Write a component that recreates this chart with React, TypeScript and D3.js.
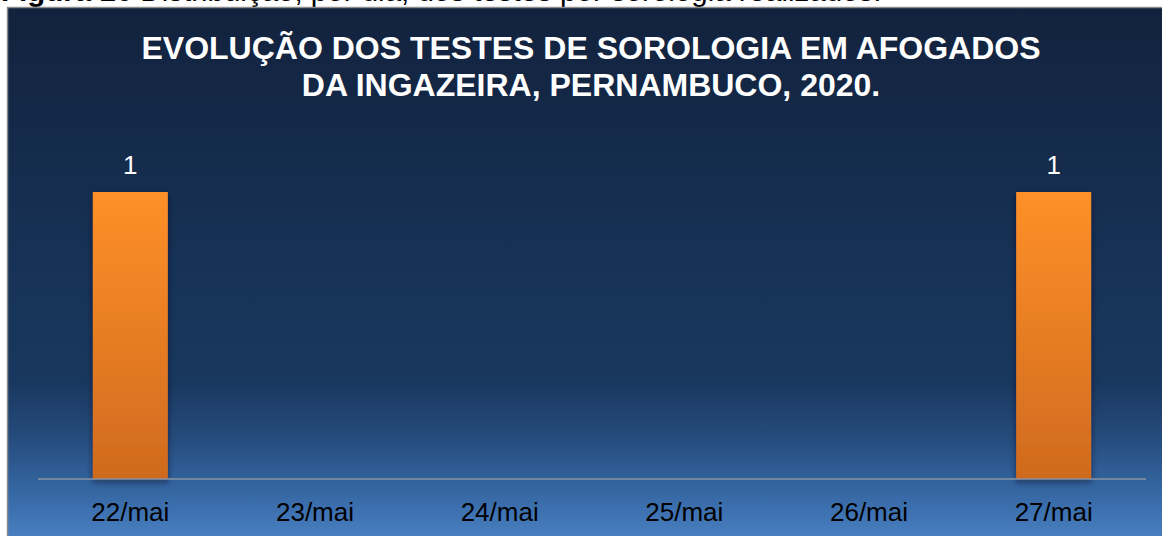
import React, { useEffect, useRef } from "react";
import * as d3 from "d3";

const categories = ["22/mai", "23/mai", "24/mai", "25/mai", "26/mai", "27/mai"];
const values = [1, 0, 0, 0, 0, 1];
const titleLines = [
  "EVOLUÇÃO DOS TESTES DE SOROLOGIA EM AFOGADOS",
  "DA INGAZEIRA, PERNAMBUCO, 2020.",
];

const W = 1162;
const H = 536;

export default function App() {
  const ref = useRef<SVGSVGElement | null>(null);

  useEffect(() => {
    const svg = d3.select(ref.current);
    svg.selectAll("*").remove();

    const defs = svg.append("defs");

    // background gradient
    const bg = defs
      .append("linearGradient")
      .attr("id", "bg")
      .attr("x1", "0%")
      .attr("x2", "0%")
      .attr("y1", "0%")
      .attr("y2", "100%");
    const bgStops = [
      [0, "#12223d"],
      [0.45, "#163155"],
      [0.7, "#19385f"],
      [0.8, "#254b7c"],
      [0.9, "#3566a2"],
      [1, "#4b82c5"],
    ];
    bg.selectAll("stop")
      .data(bgStops)
      .enter()
      .append("stop")
      .attr("offset", (d) => d[0] as number)
      .attr("stop-color", (d) => d[1] as string);

    // bar gradient
    const bar = defs
      .append("linearGradient")
      .attr("id", "bar")
      .attr("x1", "0%")
      .attr("x2", "0%")
      .attr("y1", "0%")
      .attr("y2", "100%");
    bar.append("stop").attr("offset", 0).attr("stop-color", "#ff9029");
    bar.append("stop").attr("offset", 1).attr("stop-color", "#cf6a1e");

    const shadow = defs
      .append("filter")
      .attr("id", "shadow")
      .attr("x", "-20%")
      .attr("y", "-10%")
      .attr("width", "140%")
      .attr("height", "120%");
    shadow
      .append("feDropShadow")
      .attr("dx", 0)
      .attr("dy", 3)
      .attr("stdDeviation", 3)
      .attr("flood-color", "#07142a")
      .attr("flood-opacity", 0.55);

    // caption (cut off at the top, as in the source page)
    const cap = svg
      .append("text")
      .attr("x", 1)
      .attr("y", 1)
      .style("font-family", "Liberation Sans, Arial, sans-serif")
      .style("font-size", "29.5px")
      .style("fill", "#000");
    cap.append("tspan").style("font-weight", "bold").text("Figura 16 ");
    cap.append("tspan").text("Distribuição, por dia, dos testes por sorologia realizados.");

    // chart box
    svg
      .append("rect")
      .attr("x", 7.5)
      .attr("y", 7.5)
      .attr("width", W)
      .attr("height", H)
      .attr("fill", "url(#bg)")
      .attr("stroke", "#8c8c8c")
      .attr("stroke-width", 1.5);

    // title
    svg
      .append("g")
      .selectAll("text")
      .data(titleLines)
      .enter()
      .append("text")
      .attr("x", 591)
      .attr("y", (d, i) => 59 + i * 37)
      .attr("text-anchor", "middle")
      .style("font-family", "Liberation Sans, Arial, sans-serif")
      .style("font-size", "32px")
      .style("font-weight", "bold")
      .style("fill", "#ffffff")
      .text((d) => d);

    const x = d3
      .scaleBand()
      .domain(categories)
      .range([38, 1146])
      .paddingInner(0.594)
      .paddingOuter(0.297);

    const y = d3.scaleLinear().domain([0, 1]).range([479, 192]);

    const data = categories.map((c, i) => ({ c, v: values[i] }));

    // bars
    svg
      .append("g")
      .selectAll("rect")
      .data(data.filter((d) => d.v > 0))
      .enter()
      .append("rect")
      .attr("x", (d) => x(d.c)!)
      .attr("y", (d) => y(d.v))
      .attr("width", x.bandwidth())
      .attr("height", (d) => y(0) - y(d.v))
      .attr("fill", "url(#bar)")
      .attr("filter", "url(#shadow)");

    // axis line
    svg
      .append("line")
      .attr("x1", 38)
      .attr("x2", 1146)
      .attr("y1", y(0))
      .attr("y2", y(0))
      .attr("stroke", "#8a95a5")
      .attr("stroke-width", 1.5);

    // value labels
    svg
      .append("g")
      .selectAll("text")
      .data(data.filter((d) => d.v > 0))
      .enter()
      .append("text")
      .attr("x", (d) => x(d.c)! + x.bandwidth() / 2)
      .attr("y", (d) => y(d.v) - 18)
      .attr("text-anchor", "middle")
      .style("font-family", "Liberation Sans, Arial, sans-serif")
      .style("font-size", "26px")
      .style("fill", "#ffffff")
      .text((d) => d.v);

    // category labels
    svg
      .append("g")
      .selectAll("text")
      .data(categories)
      .enter()
      .append("text")
      .attr("x", (d) => x(d)! + x.bandwidth() / 2)
      .attr("y", 521)
      .attr("text-anchor", "middle")
      .style("font-family", "Liberation Sans, Arial, sans-serif")
      .style("font-size", "26px")
      .style("fill", "#000000")
      .text((d) => d);
  }, []);

  return (
    <div style={{ position: "fixed", left: 0, top: 0, width: W, height: H, background: "#fff" }}>
      <svg ref={ref} width={W} height={H} style={{ display: "block" }} />
    </div>
  );
}
